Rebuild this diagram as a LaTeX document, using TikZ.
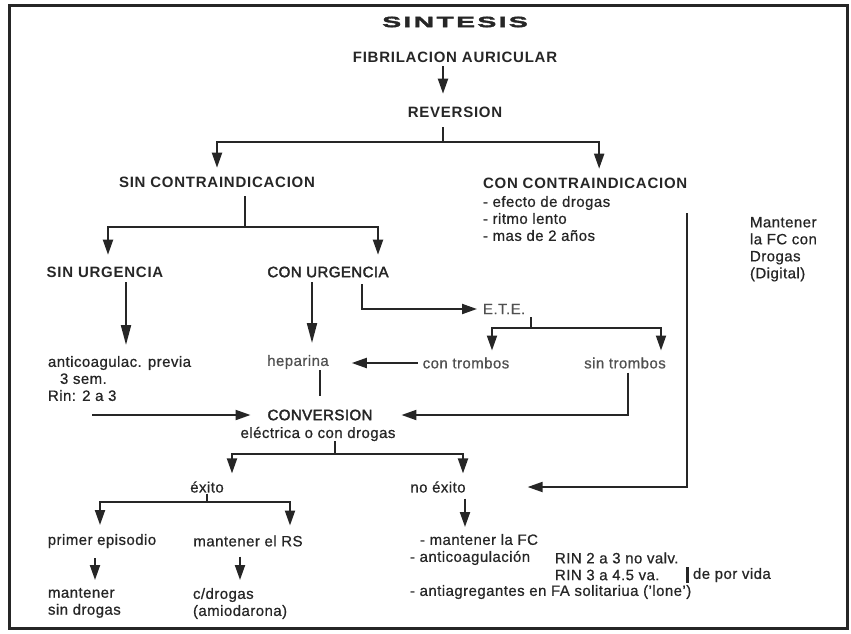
\documentclass[tikz,border=0pt]{standalone}
\usepackage{fontspec}
\setmainfont{Liberation Sans}[LetterSpace=3,FakeBold=0.7]
\newfontfamily\hdfam{Liberation Sans}[LetterSpace=5]
\newfontfamily\medfam{Liberation Sans}[LetterSpace=3,FakeBold=2.6]
\newfontfamily\titlefam{Liberation Sans}[FakeStretch=1.9,LetterSpace=15,FakeBold=2.5]
\usetikzlibrary{arrows.meta}
\definecolor{ink}{HTML}{262626}
\definecolor{soft}{HTML}{505050}
\begin{document}
\begin{tikzpicture}[x=1pt,y=-1pt,
  every node/.style={inner sep=0pt, outer sep=0pt, text=ink, font=\fontsize{15}{17}\selectfont},
  hd/.style={font=\fontsize{15}{17}\selectfont\hdfam\bfseries},
  md/.style={font=\fontsize{15}{17}\selectfont\medfam},
  tl/.style={font=\fontsize{15}{17}\selectfont\titlefam\bfseries},
  lt/.style={text=soft},
  ln/.style={draw=ink, line width=2pt},
  ar/.style={ln, -{Triangle[length=15pt,width=10pt]}},
  arl/.style={ln, -{Triangle[length=20pt,width=10pt]}}
]
\useasboundingbox (0,0) rectangle (851,633);
\draw[draw=ink, line width=3pt] (9,5) rectangle (847,628);

% texts
\node[tl] (sint) at (455,22) {SINTESIS};
\node[hd] (fa) at (455,57) {FIBRILACION AURICULAR};
\node[hd] (rev) at (455,112) {REVERSION};
\node[hd] (sinc) at (217,182) {SIN CONTRAINDICACION};
\node[hd,anchor=west] (conc) at (483,183) {CON CONTRAINDICACION};
\node[anchor=north west, align=left] (conlist) at (483,196) {- efecto de drogas\\- ritmo lento\\- mas de 2 años};
\node[anchor=north west, align=left] (mant) at (750,217) {Mantener\\la FC con\\Drogas\\(Digital)};
\node[hd] (sinu) at (105,272) {SIN URGENCIA};
\node[md] (conu) at (328,272) {CON URGENCIA};
\node[anchor=north west, align=left] (antic) at (48,356) {anticoagulac. previa\\\hspace*{12pt}3 sem.\\Rin: 2 a 3};
\node[lt] (hep) at (298,362) {heparina};
\node[lt,anchor=west] (ete) at (483,309) {E.T.E.};
\node[lt] (contr) at (466,363) {con trombos};
\node[lt] (sintr) at (625,363) {sin trombos};
\node[md] (conv) at (320,415) {CONVERSION};
\node (elec) at (318,434) {eléctrica o con drogas};
\node (exito) at (207,487) {éxito};
\node (noex) at (438,487) {no éxito};
\node (prim) at (102,541) {primer episodio};
\node (mrs) at (248,541) {mantener el RS};
\node[anchor=north west, align=left] (msd) at (48,588) {mantener\\sin drogas};
\node[anchor=north west, align=left] (cdr) at (193,588) {c/drogas\\(amiodarona)};
\node[anchor=north west, align=left] (nelist) at (410,534) {\hspace*{10pt}- mantener la FC\\- anticoagulación\\[17pt]- antiagregantes en FA solitariua ('lone')};
\node[anchor=west] (rin1) at (555,558) {RIN 2 a 3 no valv.};
\node[anchor=west] (rin2) at (555,575) {RIN 3 a 4.5 va.};
\node[anchor=west] (vida) at (693,575) {de por vida};
\draw[draw=ink, line width=3pt] (687,567) -- (687,583);

% junctions
\coordinate (j1) at (443,142);
\coordinate (j2) at (245,227);
\coordinate (j3) at (531,328);
\coordinate (j4) at (335,454);
\coordinate (j5) at (207,502);

% connectors
\draw[ar, shorten <=4pt, shorten >=13pt] (fa.south -| j1) -- (rev.north -| j1);
\draw[ln, shorten <=10pt] (rev.south -| j1) -- (j1);
\draw[ar, shorten >=9pt] (j1) -| (sinc.north);
\draw[ar] (j1) -| ([xshift=14pt,yshift=9pt]conc.north);

\draw[ln, shorten <=9pt] (sinc.south -| j2) -- (j2);
\draw[ar] (j2) -| ([xshift=3pt,yshift=12pt]sinu.north);
\draw[ar] (j2) -| ([xshift=50pt,yshift=12pt]conu.north);

\coordinate (p8) at ([xshift=21pt]sinu.south);
\draw[arl, shorten <=5pt, shorten >=11pt] (p8) -- (p8 |- antic.north);
\coordinate (p9) at ([xshift=-16pt]conu.south);
\draw[arl, shorten <=5pt, shorten >=12pt] (p9) -- (p9 |- hep.north);
\draw[ar, shorten <=7pt, shorten >=6pt] ([xshift=34pt]conu.south) |- (ete.west);

\draw[ln, shorten <=3pt] (ete.south -| j3) -- (j3);
\draw[ar] (j3) -| ([xshift=26pt,yshift=7pt]contr.north);
\draw[ar] (j3) -| ([xshift=36pt,yshift=7pt]sintr.north);
\draw[ar, shorten <=5pt, shorten >=23pt] (contr.west) -- (contr.west -| hep.east);

\draw[ln, shorten <=1pt, shorten >=14pt] (hep.south -| conv.north) -- (conv.north);
\draw[ar, shorten <=4pt, shorten >=29pt] ([xshift=3pt]sintr.south) |- (conv.east);
\coordinate (p17) at ([xshift=44pt]antic.south west);
\draw[ar, shorten >=17pt] (p17 |- conv.west) -- (conv.west);

\draw[ln] (elec.south -| j4) -- (j4);
\draw[ar] (j4) -| ([xshift=25pt,yshift=8pt]exito.north);
\draw[ar] (j4) -| ([xshift=25pt,yshift=8pt]noex.north);

\draw[ar, shorten <=25pt, shorten >=62pt] (conc.south east) |- (noex.east);

\draw[ln, shorten <=1pt] (exito.south) -- (j5);
\draw[ar] (j5) -| ([xshift=-2pt,yshift=9pt]prim.north);
\draw[ar] (j5) -| ([xshift=42pt,yshift=10pt]mrs.north);

\coordinate (p25) at ([xshift=-7pt]prim.south);
\draw[ar, shorten <=10pt, shorten >=8pt] (p25) -- (p25 |- msd.north);
\coordinate (p26) at ([xshift=-8pt]mrs.south);
\draw[ar, shorten <=10pt, shorten >=8pt] (p26) -- (p26 |- cdr.north);
\coordinate (p27) at ([xshift=27pt]noex.south);
\draw[ar, shorten <=6pt, shorten >=7pt] (p27) -- (p27 |- nelist.north);
\end{tikzpicture}
\end{document}
